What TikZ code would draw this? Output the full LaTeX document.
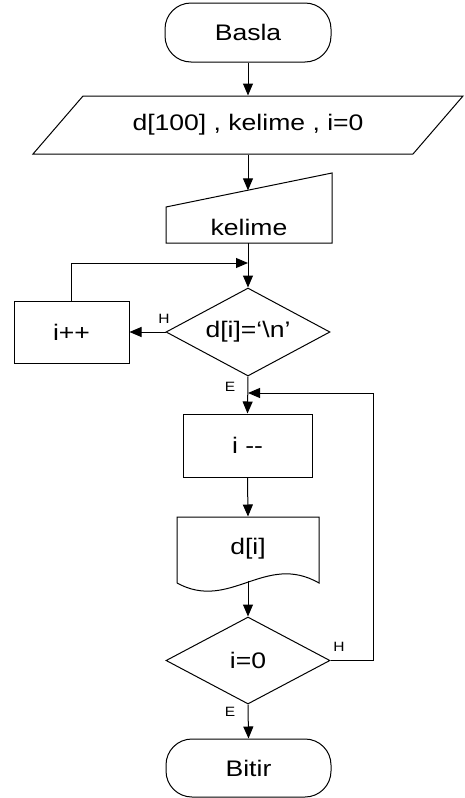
\documentclass[tikz,border=0pt]{standalone}
\usepackage{fontspec}
\usepackage{graphicx}
\setmainfont{Liberation Sans}
\usetikzlibrary{arrows.meta,shapes.geometric}
\newcommand{\bigtx}[1]{\scalebox{1.18}[1]{\fontsize{22.5pt}{27pt}\selectfont #1}}
\newcommand{\smtx}[1]{\scalebox{1.15}[1]{\fontsize{13.5pt}{16pt}\selectfont #1}}
\begin{document}
\begin{tikzpicture}[x=1pt,y=-1pt,
  line width=1pt,
  flow/.style={-{Triangle[length=12pt,width=10pt]}},
  termbox/.style={draw,rectangle,rounded corners=26pt,inner sep=0pt},
  procbox/.style={draw,rectangle,inner sep=0pt},
  decbox/.style={draw,diamond,inner sep=0pt,aspect=1.86},
  ghost/.style={rectangle,inner sep=0pt},
  lbl/.style={inner sep=0pt}]
\useasboundingbox (0,0) rectangle (464,798);
% Start
\node[termbox,minimum width=166pt,minimum height=59pt] (start) at (248,32.5) {\bigtx{Basla}};
% Data (parallelogram)
\draw (33,154) -- (413,154) -- (463,96) -- (83,96) -- cycle;
\node[ghost,minimum width=380pt,minimum height=58pt] (data) at (248,125) {\bigtx{d[100] , kelime , i=0}};
% Manual input
\draw (166,243) -- (332,243) -- (332,173) -- (166,207) -- cycle;
\node[ghost] (kel) at (249,227) {\bigtx{kelime}};
\coordinate (kelin) at (248,190.3);
\coordinate (kelout) at (248,243);
% Decision 1
\node[decbox,minimum width=164pt,minimum height=88pt] (d1) at (248,332) {\bigtx{d[i]=‘\textbackslash n’}};
% i++
\node[procbox,minimum width=115pt,minimum height=62pt] (inc) at (71.5,332) {\bigtx{i++}};
\coordinate (join1) at (248,263);
% i--
\node[procbox,minimum width=129pt,minimum height=63pt] (dec) at (247.5,445.5) {\bigtx{i \mbox{-}\mbox{-}}};
\coordinate (join2) at (248,393);
\coordinate (rloop) at (373,393);
% Document
\draw (177,583) -- (177,517) -- (319,517) -- (319,583)
  .. controls (265,552) and (230,612) .. (177,583);
\node[ghost,minimum width=142pt,minimum height=64pt] (doc) at (248,549) {\bigtx{d[i]}};
\coordinate (docout) at (248,581);
% Decision 2
\node[decbox,minimum width=164pt,minimum height=87pt] (d2) at (248,660.5) {\bigtx{i=0}};
% End
\node[termbox,minimum width=165pt,minimum height=58pt] (stop) at (248.5,768) {\bigtx{Bitir}};
% Connectors
\draw[flow] (start.south) -- (data.north);
\draw[flow] (data.south) -- (kelin);
\draw[flow] (kelout) -- (d1.north);
\draw[flow] (d1.west) -- (inc.east);
\draw[flow] (inc.north) |- (join1);
\draw[flow] (d1.south) -- (dec.north);
\draw[flow] (dec.south) -- (doc.north);
\draw[flow] (docout) -- (d2.north);
\draw[flow] (d2.east) -| (rloop) -- (join2);
\draw[flow] (d2.south) -- (stop.north);
% Labels
\node[lbl] (h1) at (164,319) {\smtx{H}};
\node[lbl] (e1) at (230,387) {\smtx{E}};
\node[lbl] (h2) at (339,647) {\smtx{H}};
\node[lbl] (e2) at (230,712) {\smtx{E}};
\end{tikzpicture}
\end{document}
